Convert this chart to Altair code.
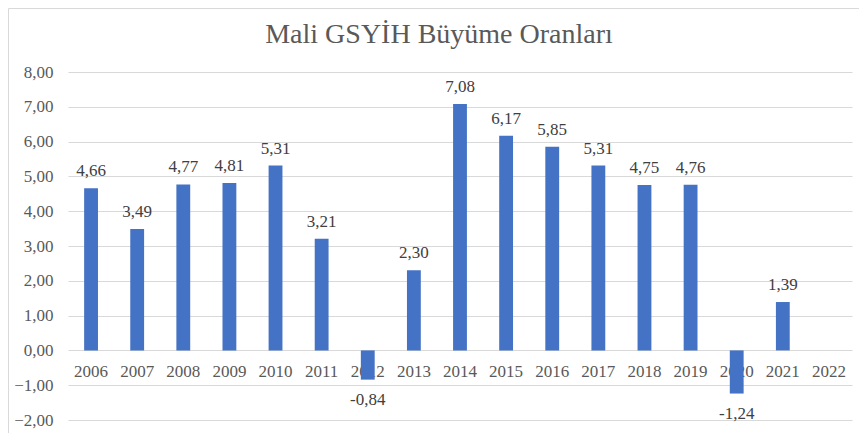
import altair as alt
import pandas as pd

years = [str(y) for y in range(2006, 2023)]
values = [4.66, 3.49, 4.77, 4.81, 5.31, 3.21, -0.84, 2.30, 7.08, 6.17, 5.85, 5.31, 4.75, 4.76, -1.24, 1.39, None]
labels = [("" if v is None else f"{v:.2f}".replace(".", ",")) for v in values]
title_text = "Mali GSYİH Büyüme Oranları"

df = pd.DataFrame({"year": years, "value": values, "label": labels})

W, H = 784, 348
FONT = "Liberation Serif"
TXT = "#595959"
BAR = "#4472C4"

xscale = alt.Scale(domain=years, paddingInner=0.7, paddingOuter=0.35)
yscale = alt.Scale(domain=[-2, 8], nice=False, zero=False)

base = alt.Chart(df)

yaxis = alt.Axis(
    values=list(range(-2, 9)),
    labelExpr="replace(format(datum.value, '.2f'), '.', ',')",
    grid=True, gridColor="#d9d9d9", gridWidth=1,
    domain=False, ticks=False, labelPadding=15,
    labelFont=FONT, labelFontSize=17, labelColor=TXT, title=None,
)

year_text = base.mark_text(font=FONT, fontSize=17, color=TXT, baseline="alphabetic", dy=27).encode(
    x=alt.X("year:N", scale=xscale, axis=None),
    y=alt.datum(0, scale=yscale, axis=yaxis, type="quantitative"),
    text="year:N",
)

bars = base.transform_filter("isValid(datum.value)").mark_bar(color=BAR).encode(
    x=alt.X("year:N", scale=xscale, axis=None),
    y=alt.Y("value:Q", scale=yscale, axis=yaxis),
    y2=alt.datum(0),
)

pos_labels = base.transform_filter("isValid(datum.value) && datum.value >= 0").mark_text(
    font=FONT, fontSize=17, color="#404040", baseline="alphabetic", dy=-12
).encode(
    x=alt.X("year:N", scale=xscale, axis=None),
    y=alt.Y("value:Q", scale=yscale, axis=yaxis),
    text="label:N",
)

neg_labels = base.transform_filter("isValid(datum.value) && datum.value < 0").mark_text(
    font=FONT, fontSize=17, color="#404040", baseline="alphabetic", dy=25
).encode(
    x=alt.X("year:N", scale=xscale, axis=None),
    y=alt.Y("value:Q", scale=yscale, axis=yaxis),
    text="label:N",
)

one = alt.Data(values=[{"t": title_text}])
title = alt.Chart(one).mark_text(font=FONT, fontSize=28, color=TXT, baseline="alphabetic", align="center").encode(
    x=alt.value(371), y=alt.value(-29), text="t:N"
)

border = alt.Chart(one).mark_rect(fill=None, stroke="#d9d9d9", strokeWidth=1).encode(
    x=alt.value(-59.5), x2=alt.value(W + 40), y=alt.value(-63.5), y2=alt.value(H + 40)
)

chart = alt.layer(border, year_text, bars, pos_labels, neg_labels, title).properties(
    width=W, height=H,
    padding={"left": 60, "top": 64, "right": 7, "bottom": 13},
    autosize=alt.AutoSizeParams(type="none"),
    background="white",
).configure_view(stroke=None)

chart.save("out.html", embed_options={"renderer": "svg", "actions": False})
